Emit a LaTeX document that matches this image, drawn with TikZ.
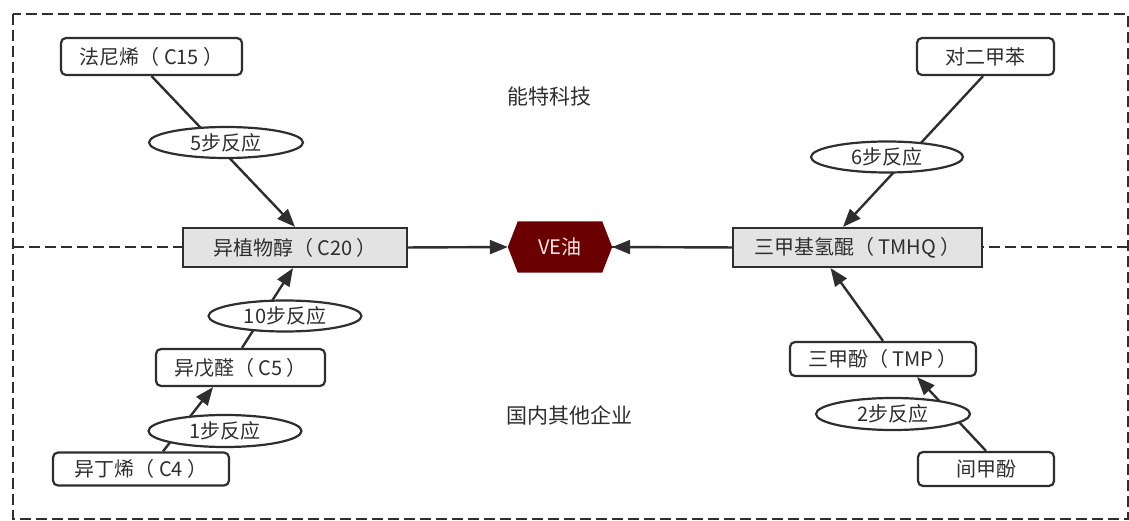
\documentclass[tikz,border=0pt]{standalone}
\usepackage{fontspec}
\setmainfont{Noto Sans CJK SC}
\usetikzlibrary{arrows.meta,shapes.geometric,backgrounds}
\definecolor{ink}{HTML}{2E2E2E}
\definecolor{boxgray}{HTML}{E3E3E3}
\definecolor{vered}{HTML}{6B0000}
\definecolor{vetext}{HTML}{F3E6E6}
\begin{document}
\begin{tikzpicture}[x=1pt,y=-1pt,
  every node/.style={font=\fontsize{20}{22}\selectfont, text=ink, inner sep=0pt},
  rbox/.style={draw=ink, line width=2.2pt, rounded corners=5pt, fill=white},
  gbox/.style={draw=ink, line width=2.2pt, fill=boxgray},
  oval/.style={ellipse, draw=ink, line width=2.2pt, fill=white},
  arr/.style={draw=ink, line width=2.4pt, -{Triangle[length=18pt,width=14pt]}},
  frame/.style={draw=ink, line width=2.2pt, dash pattern=on 11pt off 5pt},
  region/.style={font=\fontsize{21}{24}\selectfont}
]
\useasboundingbox (0,0) rectangle (1129,521);

% nodes
\node[rbox, minimum width=181pt, minimum height=37pt] (c15) at (151.5,56.5) {法尼烯（ C15 ）};
\node[gbox, minimum width=224pt, minimum height=39pt] (c20) at (295,247.5) {异植物醇（ C20 ）};
\node[minimum width=84pt, minimum height=51pt, text=vetext] (ve) at (560,247) {VE油};
\node[gbox, minimum width=249pt, minimum height=39pt] (tmhq) at (857.5,247.5) {三甲基氢醌（ TMHQ ）};
\node[rbox, minimum width=137pt, minimum height=37pt] (pxy) at (985.5,56.5) {对二甲苯};
\node[rbox, minimum width=169pt, minimum height=37pt] (c5) at (240.5,367.5) {异戊醛（ C5 ）};
\node[rbox, minimum width=176pt, minimum height=33pt] (c4) at (141,469) {异丁烯（ C4 ）};
\node[rbox, minimum width=186pt, minimum height=34pt] (tmp) at (883,359) {三甲酚（ TMP ）};
\node[rbox, minimum width=136pt, minimum height=34pt] (mcr) at (986,469) {间甲酚};

\node[oval, minimum width=154pt, minimum height=31pt] (e5) at (226,142.5) {5步反应};
\node[oval, minimum width=152pt, minimum height=31pt] (e6) at (887,157) {6步反应};
\node[oval, minimum width=153pt, minimum height=31pt] (e10) at (285,316) {10步反应};
\node[oval, minimum width=153pt, minimum height=32pt] (e1) at (225,431) {1步反应};
\node[oval, minimum width=154pt, minimum height=32pt] (e2) at (893,414) {2步反应};

\node[region] (lab1) at (549,97) {能特科技};
\node[region] (lab2) at (569,415) {国内其他企业};

\begin{scope}[on background layer]
  \draw[frame] (13,14) rectangle (1128,519);
  \draw[frame] (13,247) -- (1128,247);
  \fill[vered] (ve.north west) -- (ve.north east) -- ([xshift=10pt]ve.east)
     -- (ve.south east) -- (ve.south west) -- ([xshift=-10pt]ve.west) -- cycle;
  \draw[arr] (c15.south) -- (c20.north);
  \draw[arr] ([xshift=-2.5pt]pxy.south) -- ([xshift=-14.5pt]tmhq.north);
  \draw[arr] ([xshift=22pt]c4.north) -- ([xshift=-27.5pt]c5.south);
  \draw[arr] ([xshift=1.5pt]c5.north) -- ([xshift=-2pt]c20.south);
  \draw[arr] (tmp.north) -- ([xshift=-27pt]tmhq.south);
  \draw[arr] (mcr.north) -- ([xshift=34pt]tmp.south);
  \draw[arr] (c20.east) -- ([xshift=-10pt]ve.west);
  \draw[arr] (tmhq.west) -- ([xshift=10pt]ve.east);
\end{scope}
\end{tikzpicture}
\end{document}
